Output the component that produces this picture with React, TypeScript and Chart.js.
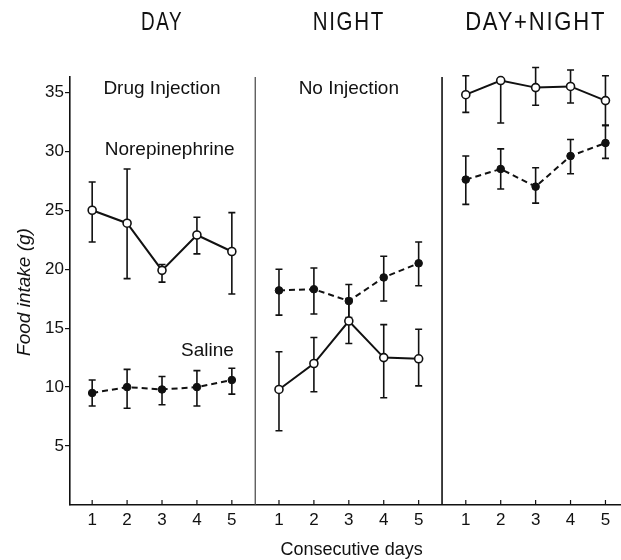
import { useEffect, useRef } from "react";
import { Chart, registerables } from "chart.js";

Chart.register(...registerables);

// ---------- data ----------
const DAYS = [1, 2, 3, 4, 5];
const PANEL_TITLES = ["DAY", "NIGHT", "DAY+NIGHT"];
const Y_TICKS = [5, 10, 15, 20, 25, 30, 35];
const X_TITLE = "Consecutive days";
const Y_TITLE = "Food intake (g)";
const NOTE_TEXTS = ["Drug Injection", "Norepinephrine", "Saline", "No Injection"];
const NOTE_PANEL = [0, 0, 0, 1];
const NOTE_DAY = [3.0, 3.22, 4.3, 3.0];
const NOTE_VALUE = [35.3, 30.1, 13.1, 35.3];

// DAY (drug injection)
const dayNorepi = [25.0, 23.9, 19.9, 22.9, 21.5];
const dayNorepiLow = [22.3, 19.2, 18.9, 21.3, 17.9];
const dayNorepiHigh = [27.4, 28.5, 20.4, 24.4, 24.8];
const daySaline = [9.5, 10.0, 9.8, 10.0, 10.6];
const daySalineLow = [8.4, 8.2, 8.5, 8.4, 9.4];
const daySalineHigh = [10.6, 11.5, 10.9, 11.4, 11.6];

// NIGHT (no injection)
const nightNorepi = [9.8, 12.0, 15.6, 12.5, 12.4];
const nightNorepiLow = [6.3, 9.6, 13.7, 9.1, 10.1];
const nightNorepiHigh = [13.0, 14.2, 17.5, 15.3, 14.9];
const nightSaline = [18.2, 18.3, 17.3, 19.3, 20.5];
const nightSalineLow = [16.1, 16.2, 15.9, 17.3, 18.6];
const nightSalineHigh = [20.0, 20.1, 18.7, 21.1, 22.3];

// DAY+NIGHT
const totalNorepi = [34.8, 36.0, 35.4, 35.5, 34.3];
const totalNorepiLow = [33.3, 32.4, 33.9, 34.1, 32.2];
const totalNorepiHigh = [36.4, 36.0, 37.1, 36.9, 36.4];
const totalSaline = [27.6, 28.5, 27.0, 29.6, 30.7];
const totalSalineLow = [25.5, 26.8, 25.6, 28.1, 29.4];
const totalSalineHigh = [29.6, 30.2, 28.6, 31.0, 32.2];

// ---------- layout / style ----------
const W = 621;
const H = 560;
const PANEL_SHIFT = 5.35;
const X_MIN = 0.365;
const X_MAX = 16.145;
const DIVIDER_GAP = 0.32;
const Y_MAX = 36.3;
const INK = "#111";
const FONT = '"Liberation Sans", Arial, sans-serif';
const TITLE_WIDTHS = [42, 72, 141];

type Pt = { x: number; y: number; lo: number; hi: number };

function points(vals: number[], lo: number[], hi: number[], panel: number): Pt[] {
  return DAYS.map((d, i) => ({ x: d + panel * PANEL_SHIFT, y: vals[i], lo: lo[i], hi: hi[i] }));
}

function drawText(
  ctx: CanvasRenderingContext2D,
  text: string,
  cx: number,
  cy: number,
  font: string,
  opts: { width?: number; rotate?: number; spacing?: string } = {}
) {
  ctx.save();
  ctx.font = font;
  (ctx as any).letterSpacing = opts.spacing || "0px";
  ctx.fillStyle = INK;
  ctx.textAlign = "center";
  ctx.textBaseline = "middle";
  ctx.translate(cx, cy);
  if (opts.rotate) ctx.rotate(opts.rotate);
  if (opts.width) {
    const m = ctx.measureText(text).width;
    ctx.scale(opts.width / m, 1);
  }
  ctx.fillText(text, 0, 0);
  ctx.restore();
}

const decorPlugin = {
  id: "decor",
  beforeDatasetsDraw(chart: any) {
    const { ctx, chartArea, scales } = chart;
    const x = scales.x;
    const y = scales.y;
    ctx.save();
    // panel dividers
    [1, 2].forEach((p) => {
      const px = x.getPixelForValue(p * PANEL_SHIFT + DIVIDER_GAP);
      ctx.beginPath();
      ctx.strokeStyle = p === 1 ? "#444" : INK;
      ctx.lineWidth = p === 1 ? 1.2 : 1.6;
      ctx.moveTo(px, chartArea.top);
      ctx.lineTo(px, chartArea.bottom);
      ctx.stroke();
    });
    // inward x ticks
    ctx.strokeStyle = INK;
    ctx.lineWidth = 1.2;
    x.ticks.forEach((t: any) => {
      const px = x.getPixelForValue(t.value);
      ctx.beginPath();
      ctx.moveTo(px, chartArea.bottom);
      ctx.lineTo(px, chartArea.bottom - 5);
      ctx.stroke();
    });
    // error bars
    ctx.lineWidth = 1.6;
    chart.data.datasets.forEach((ds: any) => {
      ds.data.forEach((pt: Pt) => {
        const px = x.getPixelForValue(pt.x);
        const yHi = y.getPixelForValue(pt.hi);
        const yLo = y.getPixelForValue(pt.lo);
        ctx.beginPath();
        ctx.moveTo(px, yHi);
        ctx.lineTo(px, yLo);
        if (pt.hi > pt.y) {
          ctx.moveTo(px - 3.5, yHi);
          ctx.lineTo(px + 3.5, yHi);
        }
        if (pt.lo < pt.y) {
          ctx.moveTo(px - 3.5, yLo);
          ctx.lineTo(px + 3.5, yLo);
        }
        ctx.stroke();
      });
    });
    ctx.restore();
  },
  afterDraw(chart: any) {
    const { ctx, chartArea, scales } = chart;
    const x = scales.x;
    const y = scales.y;
    PANEL_TITLES.forEach((t, p) => {
      drawText(ctx, t, x.getPixelForValue(3 + p * PANEL_SHIFT), 23, `25px ${FONT}`, {
        width: TITLE_WIDTHS[p],
        spacing: "2px",
      });
    });
    NOTE_TEXTS.forEach((t, i) => {
      drawText(
        ctx,
        t,
        x.getPixelForValue(NOTE_DAY[i] + NOTE_PANEL[i] * PANEL_SHIFT),
        y.getPixelForValue(NOTE_VALUE[i]),
        `19px ${FONT}`
      );
    });
    drawText(ctx, X_TITLE, x.getPixelForValue(3.08 + PANEL_SHIFT), 550, `18px ${FONT}`);
    drawText(ctx, Y_TITLE, 25, (chartArea.top + chartArea.bottom) / 2 + 1, `italic 19px ${FONT}`, {
      rotate: -Math.PI / 2,
    });
  },
};

export default function App() {
  const ref = useRef<HTMLCanvasElement>(null);

  useEffect(() => {
    const canvas = ref.current;
    if (!canvas) return;

    const panels = [
      [dayNorepi, dayNorepiLow, dayNorepiHigh, daySaline, daySalineLow, daySalineHigh],
      [nightNorepi, nightNorepiLow, nightNorepiHigh, nightSaline, nightSalineLow, nightSalineHigh],
      [totalNorepi, totalNorepiLow, totalNorepiHigh, totalSaline, totalSalineLow, totalSalineHigh],
    ];

    const datasets: any[] = [];
    panels.forEach((s, p) => {
      datasets.push({
        label: "Norepinephrine",
        data: points(s[0], s[1], s[2], p),
        borderColor: INK,
        borderWidth: 2,
        pointRadius: 4,
        pointBackgroundColor: "#fff",
        pointBorderColor: INK,
        pointBorderWidth: 1.6,
        tension: 0,
        clip: false,
        order: 1,
      });
      datasets.push({
        label: "Saline",
        data: points(s[3], s[4], s[5], p),
        borderColor: INK,
        borderWidth: 2,
        borderDash: [6, 4],
        pointRadius: 3.8,
        pointBackgroundColor: INK,
        pointBorderColor: INK,
        pointBorderWidth: 1,
        tension: 0,
        clip: false,
        order: 2,
      });
    });

    const chart = new Chart(canvas, {
      type: "line",
      data: { datasets },
      options: {
        animation: false,
        responsive: false,
        devicePixelRatio: 1,
        layout: { autoPadding: false, padding: { top: 77, right: 0, left: 0, bottom: 0 } },
        plugins: { legend: { display: false }, tooltip: { enabled: false } },
        scales: {
          x: {
            type: "linear",
            min: X_MIN,
            max: X_MAX,
            afterBuildTicks: (s: any) => {
              s.ticks = PANEL_TITLES.flatMap((_, p) => DAYS.map((d) => ({ value: d + p * PANEL_SHIFT })));
            },
            afterFit: (s: any) => {
              s.height = H - 505;
              s.paddingLeft = 0;
              s.paddingRight = 0;
            },
            grid: { display: false, drawTicks: false },
            border: { display: true, color: INK, width: 1.6 },
            ticks: {
              autoSkip: false,
              maxRotation: 0,
              padding: 5,
              color: INK,
              font: { family: FONT, size: 17 },
              callback: (_v: any, i: number) => String(DAYS[i % DAYS.length]),
            },
          },
          y: {
            min: 0,
            max: Y_MAX,
            afterBuildTicks: (s: any) => {
              s.ticks = Y_TICKS.map((v) => ({ value: v }));
            },
            afterFit: (s: any) => {
              s.width = 70;
              s.paddingTop = 0;
              s.paddingBottom = 0;
            },
            grid: { drawOnChartArea: false, drawTicks: true, tickLength: 5, color: INK, lineWidth: 1.2 },
            border: { display: true, color: INK, width: 1.6 },
            ticks: { padding: 1, color: INK, font: { family: FONT, size: 17 } },
          },
        },
      },
      plugins: [decorPlugin],
    });

    return () => chart.destroy();
  }, []);

  return (
    <div style={{ position: "absolute", left: 0, top: 0, width: W, height: H, background: "#fff" }}>
      <canvas ref={ref} width={W} height={H} />
    </div>
  );
}
